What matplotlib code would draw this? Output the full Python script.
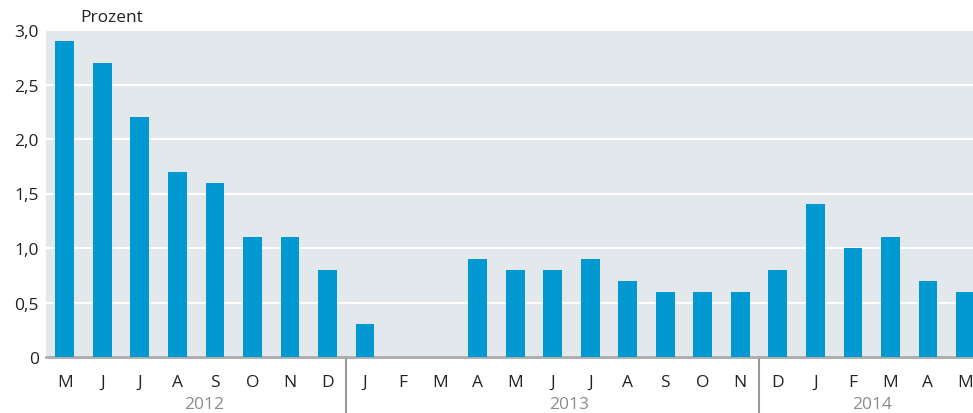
import matplotlib.pyplot as plt
import numpy as np

# data: monthly values, May 2012 - May 2014
months = ["M", "J", "J", "A", "S", "O", "N", "D",
          "J", "F", "M", "A", "M", "J", "J", "A", "S", "O", "N",
          "D", "J", "F", "M", "A", "M"]
values = [2.9, 2.7, 2.2, 1.7, 1.6, 1.1, 1.1, 0.8,
          0.3, 0.0, 0.0, 0.9, 0.8, 0.8, 0.9, 0.7, 0.6, 0.6, 0.6,
          0.8, 1.4, 1.0, 1.1, 0.7, 0.6]
years = ["2012", "2013", "2014"]
year_centers = [3.7, 13.45, 21.5]
year_splits = [7.5, 18.5]
yticks = [0, 0.5, 1.0, 1.5, 2.0, 2.5, 3.0]
ytick_labels = ["0", "0,5", "1,0", "1,5", "2,0", "2,5", "3,0"]

plt.rcParams['font.family'] = ['Open Sans', 'DejaVu Sans']

fig = plt.figure(figsize=(9.73, 4.14), dpi=100)
ax = fig.add_axes([46/973, 56/414, 927/973, 327/414])
ax.set_facecolor('#e3e8ec')

x = np.arange(len(values))
ax.bar(x, values, width=0.5, color='#0099d1', zorder=3)

ax.set_xlim(-0.5, 24.2)
ax.set_ylim(0, 3.0)
ax.set_yticks(yticks)
ax.set_yticklabels(ytick_labels, fontsize=12.5, color='#222222')
ax.yaxis.grid(True, color='white', linewidth=1.5, zorder=1)
ax.set_axisbelow(True)

ax.set_xticks(x)
ax.set_xticklabels(months, fontsize=12.5, color='#222222')
ax.tick_params(axis='both', length=0)
ax.tick_params(axis='x', pad=12)
ax.tick_params(axis='y', pad=5)

for s in ['top', 'right', 'left']:
    ax.spines[s].set_visible(False)
ax.spines['bottom'].set_color('#aaaaaa')
ax.spines['bottom'].set_linewidth(2)

# year separators and labels below the axis
trans = ax.get_xaxis_transform()
for xc, yr in zip(year_centers, years):
    ax.text(xc, -0.145, yr, transform=trans, ha='center', va='center',
            fontsize=12.5, color='#8c8c8c')
for xs in year_splits:
    ax.plot([xs, xs], [0, -0.2], transform=trans, color='#999999',
            linewidth=1.5, clip_on=False)

fig.text(80/973, 1 - 18/414, "Prozent", fontsize=12.5, color='#222222',
         ha='left', va='center')

fig.savefig("out.png", dpi=100)
